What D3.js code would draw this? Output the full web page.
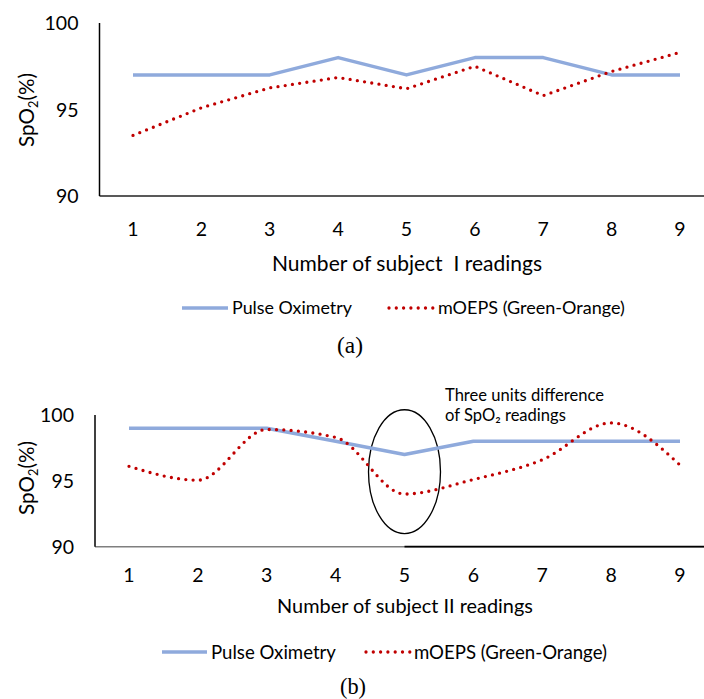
<!DOCTYPE html>
<html>
<head>
<meta charset="utf-8">
<script src="https://cdn.jsdelivr.net/npm/d3@7"></script>
<style>
  html, body { margin: 0; padding: 0; background: #fff; }
  svg { display: block; }
</style>
</head>
<body>
<svg id="chart" width="704" height="699"></svg>
<script>
// ---------------- data ----------------
const readings = [1, 2, 3, 4, 5, 6, 7, 8, 9];
const yTicks = [90, 95, 100];
const subjIPulse = [97, 97, 97, 98, 97, 98, 98, 97, 97];
const subjIMoeps = [93.5, 95.1, 96.25, 96.85, 96.2, 97.5, 95.8, 97.2, 98.3];
const subjIIPulse = [99, 99, 99, 98, 97, 98, 98, 98, 98];
const subjIIMoeps = [96.1, 95.05, 98.9, 98.3, 94.0, 95.1, 96.6, 99.4, 96.2];
const seriesNames = ["Pulse Oximetry", "mOEPS (Green-Orange)"];
const xTitles = ["Number of subject  I readings", "Number of subject II readings"];
const panelLabels = ["(a)", "(b)"];
const noteLines = ["Three units difference", "of SpO\u2082 readings"];

// ---------------- style ----------------
const FONT = "Lato, 'Open Sans', sans-serif";
const BLUE = "#8FAADC";
const RED = "#C00000";
const svg = d3.select("#chart");

function fit(sel, w) {
  const l = sel.node().getComputedTextLength();
  const fs = parseFloat(sel.attr("font-size"));
  sel.attr("font-size", (fs * w / l).toFixed(2));
  return sel;
}

function panel(cfg) {
  const g = svg.append("g");
  const x = d3.scalePoint().domain(readings).range([cfg.x1, cfg.x9]);
  const y = d3.scaleLinear().domain([90, 100]).range([cfg.yBot, cfg.yTop]);

  // x axis line
  g.append("line").attr("x1", cfg.axisX).attr("x2", 704)
    .attr("y1", cfg.yBot).attr("y2", cfg.yBot)
    .attr("stroke", cfg.xAxisColor).attr("stroke-width", cfg.xAxisW);
  if (cfg.blackFrom) {
    g.append("line").attr("x1", x(cfg.blackFrom)).attr("x2", 704)
      .attr("y1", cfg.yBot).attr("y2", cfg.yBot)
      .attr("stroke", "#000").attr("stroke-width", 1.8);
  }
  // y axis line
  g.append("line").attr("x1", cfg.axisX).attr("x2", cfg.axisX)
    .attr("y1", cfg.yTop).attr("y2", cfg.yBot)
    .attr("stroke", "#000").attr("stroke-width", 1.5);

  // y tick labels
  g.selectAll(".yt").data(yTicks).join("text")
    .attr("x", cfg.axisX - 21).attr("y", d => y(d))
    .attr("dy", "0.36em").attr("text-anchor", "end")
    .attr("font-family", FONT).attr("font-size", 19.5).attr("fill", "#000")
    .text(d => d);
  // x tick labels
  g.selectAll(".xt").data(readings).join("text")
    .attr("x", d => x(d)).attr("y", cfg.yBot + cfg.xTickOff)
    .attr("dy", "0.36em").attr("text-anchor", "middle")
    .attr("font-family", FONT).attr("font-size", 19.5).attr("fill", "#000")
    .text(d => d);

  // x title
  const xt = g.append("text").attr("x", cfg.xTitleX).attr("y", cfg.xTitleY)
    .attr("dy", "0.36em").attr("text-anchor", "middle")
    .attr("font-family", FONT).attr("font-size", 19).attr("fill", "#000")
    .attr("xml:space", "preserve").style("white-space", "pre")
    .text(cfg.xTitle);
  fit(xt, cfg.xTitleW);

  // y title
  const yt = g.append("text")
    .attr("transform", `translate(${cfg.yTitleX},${cfg.yTitleY}) rotate(-90)`)
    .attr("text-anchor", "middle").attr("dy", "0.36em")
    .attr("font-family", FONT).attr("font-size", 19).attr("fill", "#000");
  yt.append("tspan").text("SpO");
  yt.append("tspan").attr("font-size", "0.62em").attr("dy", "0.3em").text("2");
  yt.append("tspan").attr("dy", "-0.19em").text("(%)");
  fit(yt, cfg.yTitleW);

  // annotation
  if (cfg.ellipse) {
    g.append("ellipse").attr("cx", x(cfg.ellipse.at)).attr("cy", y(cfg.ellipse.mid))
      .attr("rx", cfg.ellipse.rx).attr("ry", y(90) - y(90 + cfg.ellipse.half))
      .attr("fill", "none").attr("stroke", "#000").attr("stroke-width", 1.3);
    const n0 = g.append("text").attr("x", cfg.noteX).attr("y", cfg.noteY)
      .attr("font-family", FONT).attr("font-size", 15).attr("fill", "#000").text(noteLines[0]);
    fit(n0, cfg.noteW);
    g.append("text").attr("x", cfg.noteX).attr("y", cfg.noteY + 20)
      .attr("font-family", FONT).attr("font-size", n0.attr("font-size"))
      .attr("fill", "#000").text(noteLines[1]);
  }

  const lineStraight = d3.line().x((d, i) => x(readings[i])).y(d => y(d));
  const lineRed = d3.line().x((d, i) => x(readings[i])).y(d => y(d)).curve(cfg.redCurve);

  g.append("path").attr("d", lineStraight(cfg.pulse))
    .attr("fill", "none").attr("stroke", BLUE).attr("stroke-width", 3.5)
    .attr("stroke-linejoin", "round");
  g.append("path").attr("d", lineRed(cfg.moeps))
    .attr("fill", "none").attr("stroke", RED).attr("stroke-width", 3.3)
    .attr("stroke-linecap", "round").attr("stroke-dasharray", "0 7.3");

  // legend
  const L = cfg.legend;
  g.append("line").attr("x1", L.bx1).attr("x2", L.bx2).attr("y1", L.y).attr("y2", L.y)
    .attr("stroke", BLUE).attr("stroke-width", 3.5);
  const t1 = g.append("text").attr("x", L.bx2 + 4).attr("y", L.y).attr("dy", "0.36em")
    .attr("font-family", FONT).attr("font-size", 17).attr("fill", "#000").text(seriesNames[0]);
  fit(t1, L.t1w);
  g.append("line").attr("x1", L.rx1).attr("x2", L.rx2).attr("y1", L.y).attr("y2", L.y)
    .attr("stroke", RED).attr("stroke-width", 3.3)
    .attr("stroke-linecap", "round").attr("stroke-dasharray", "0 7.3");
  const t2 = g.append("text").attr("x", L.rx2 + 4).attr("y", L.y).attr("dy", "0.36em")
    .attr("font-family", FONT).attr("font-size", 17).attr("fill", "#000").text(seriesNames[1]);
  fit(t2, L.t2w);

  const pl = g.append("text").attr("x", cfg.plX).attr("y", cfg.plY).attr("dy", "0.36em")
    .attr("text-anchor", "middle").attr("font-family", "'Liberation Serif', 'DejaVu Serif', serif")
    .attr("font-size", 17).attr("fill", "#000").text(cfg.panel);
  fit(pl, 26);
}

panel({
  x1: 133, x9: 680, yTop: 23, yBot: 196, axisX: 99.5,
  xAxisColor: "#595959", xAxisW: 2.2, xTickOff: 33,
  xTitle: xTitles[0], xTitleX: 407, xTitleY: 263, xTitleW: 270,
  yTitleX: 27, yTitleY: 110, yTitleW: 74,
  pulse: subjIPulse, moeps: subjIMoeps, redCurve: d3.curveLinear,
  legend: { y: 308, bx1: 182, bx2: 228, rx1: 389, rx2: 434, t1w: 120, t2w: 187 },
  panel: panelLabels[0], plX: 350, plY: 345
});

panel({
  x1: 129, x9: 680, yTop: 415, yBot: 546.7, axisX: 95,
  xAxisColor: "#7f7f7f", xAxisW: 1.4, xTickOff: 28, blackFrom: 5,
  xTitle: xTitles[1], xTitleX: 405, xTitleY: 606, xTitleW: 256,
  yTitleX: 27, yTitleY: 478, yTitleW: 74,
  pulse: subjIIPulse, moeps: subjIIMoeps, redCurve: d3.curveMonotoneX,
  ellipse: { at: 5, mid: 95.7, half: 4.7, rx: 36 },
  noteX: 445, noteY: 401, noteW: 159,
  legend: { y: 652, bx1: 162, bx2: 207, rx1: 366, rx2: 410, t1w: 125, t2w: 193 },
  panel: panelLabels[1], plX: 353, plY: 686
});
</script>
</body>
</html>
